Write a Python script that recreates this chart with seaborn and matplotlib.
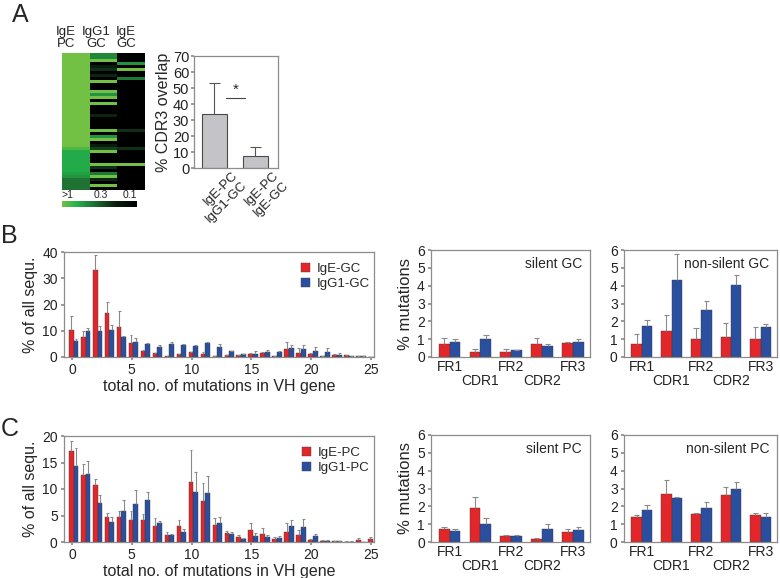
import numpy as np
import pandas as pd
import matplotlib
matplotlib.use("Agg")
import matplotlib.pyplot as plt
import matplotlib.transforms as mtransforms
import seaborn as sns
from matplotlib.colors import LinearSegmentedColormap

# ------------------------------------------------------------------ data
# Panel A: heat map of clone frequencies (one row per CDR3 clone)
heat_columns = ["IgE\nPC", "IgG1\nGC", "IgE\nGC"]
heat_ige_pc = [2.0, 2.0, 2.0, 2.0, 2.0, 2.0, 2.0, 2.0, 2.0, 2.0,
               2.0, 2.0, 2.0, 2.0, 2.0, 2.0, 2.0, 2.0, 2.0, 2.0,
               2.0, 2.0, 2.0, 2.0, 2.0, 2.0, 2.0, 2.0, 2.0, 2.0,
               1.0, 0.8, 0.6, 0.6, 0.6, 0.6, 0.6, 0.6, 0.6, 0.55,
               0.5, 0.38, 0.38, 0.38, 0.38]
heat_igg1_gc = [0.45, 0.45, 1.5, 0.1, 0.18, 0.22, 0.1, 0.2, 0.1, 1.5,
                0.1, 0.1, 1.5, 0.5, 1.5, 0.1, 1.5, 0.1, 0.1, 0.1,
                0.2, 0.1, 0.1, 0.1, 0.1, 1.5, 0.1, 0.5, 1.5, 0.1,
                0.18, 0.25, 1.5, 0.1, 0.1, 0.1, 1.5, 0.22, 0.1, 0.4,
                1.5, 0.2, 0.1, 1.5, 0.1]
heat_ige_gc = [0.05, 0.05, 0.05, 0.5, 0.05, 1.2, 0.05, 0.05, 0.4, 0.05,
               0.05, 0.05, 0.05, 0.05, 0.05, 0.05, 0.05, 0.05, 0.05, 0.05,
               0.05, 0.05, 0.05, 0.05, 0.05, 0.22, 0.05, 0.05, 0.05, 0.05,
               0.05, 0.22, 0.05, 0.05, 0.05, 0.05, 1.2, 0.05, 0.05, 0.05,
               0.05, 0.05, 0.05, 0.05, 0.05]
cbar_values = [1.0, 0.3, 0.1]
cbar_ticklabels = [">1", "0.3", "0.1"]

# Panel A: CDR3 overlap bar chart
overlap_pairs = ["IgE-PC\nIgG1-GC", "IgE-PC\nIgE-GC"]
overlap_mean = [34.0, 7.5]
overlap_upper = [53.0, 13.0]

# Panels B/C: distribution of number of mutations
mut_n = list(range(26))
gc_groups = ["IgE-GC", "IgG1-GC"]
gc_ige = [10.3, 7.6, 33.2, 16.9, 11.4, 5.2, 2.2, 1.4, 0.4, 1.1, 1.8, 1.3, 0.25,
          0.7, 0.6, 1.1, 1.4, 0.25, 2.9, 1.6, 1.2, 0.2, 0.9, 0.6, 0.25, 0.1]
gc_ige_hi = [15.6, 9.9, 39.0, 21.0, 17.4, 8.3, 2.8, 1.6, 0.5, 1.3, 2.0, 1.8, 0.3,
             0.8, 0.7, 1.5, 2.0, 0.3, 5.6, 3.3, 1.5, 0.3, 1.3, 0.7, 0.3, 0.15]
gc_igg1 = [6.0, 9.8, 10.0, 10.2, 7.7, 5.8, 5.1, 3.8, 4.9, 4.5, 4.3, 5.2, 3.9,
           2.1, 1.2, 1.3, 2.0, 2.0, 3.5, 3.2, 2.3, 1.9, 0.9, 0.2, 0.2, 0.1]
gc_igg1_hi = [6.9, 10.9, 11.7, 12.1, 8.1, 7.1, 5.3, 4.4, 5.8, 5.0, 4.5, 5.6, 4.9,
              2.3, 1.3, 2.1, 2.5, 2.4, 4.7, 4.5, 3.9, 3.3, 1.5, 0.3, 0.3, 0.15]

pc_groups = ["IgE-PC", "IgG1-PC"]
pc_ige = [17.1, 12.6, 10.7, 4.7, 4.7, 4.2, 4.2, 3.0, 1.3, 3.0, 11.4, 7.7, 3.3,
          1.7, 0.9, 2.3, 1.6, 0.6, 1.9, 1.4, 0.4, 0.2, 0.1, 0.05, 0.45, 0.55]
pc_ige_hi = [19.1, 14.8, 11.9, 5.5, 5.8, 5.8, 5.2, 4.6, 1.9, 4.2, 17.4, 11.2, 4.5,
             2.0, 1.3, 3.6, 2.7, 0.9, 3.6, 2.3, 0.5, 0.3, 0.15, 0.1, 0.8, 0.9]
pc_igg1 = [14.3, 12.8, 7.3, 3.8, 5.8, 7.1, 8.0, 3.6, 1.4, 1.9, 9.4, 9.2, 3.6,
           1.6, 0.6, 1.1, 0.9, 0.7, 3.0, 2.8, 1.1, 0.25, 0.1, 0.05, 0.0, 0.05]
pc_igg1_hi = [17.7, 15.2, 8.9, 4.7, 7.9, 9.9, 9.4, 4.0, 1.6, 2.5, 13.3, 12.5, 4.7,
              1.8, 0.8, 1.7, 1.4, 1.2, 4.2, 4.3, 1.6, 0.4, 0.15, 0.1, 0.0, 0.1]
hist_ticks = [0, 5, 10, 15, 20, 25]

# Panels B/C: % mutations per region
regions = ["FR1", "CDR1", "FR2", "CDR2", "FR3"]
sil_gc_ige = [0.71, 0.30, 0.28, 0.75, 0.77]
sil_gc_ige_hi = [1.09, 0.47, 0.47, 1.07, 0.83]
sil_gc_igg1 = [0.83, 1.03, 0.39, 0.62, 0.86]
sil_gc_igg1_hi = [1.03, 1.26, 0.41, 0.75, 1.01]
ns_gc_ige = [0.75, 1.44, 1.03, 1.13, 0.99]
ns_gc_ige_hi = [1.28, 2.33, 1.65, 1.88, 1.67]
ns_gc_igg1 = [1.73, 4.31, 2.63, 4.03, 1.69]
ns_gc_igg1_hi = [2.06, 5.78, 3.15, 4.62, 1.86]
sil_pc_ige = [0.71, 1.91, 0.36, 0.19, 0.56]
sil_pc_ige_hi = [0.86, 2.55, 0.41, 0.22, 0.71]
sil_pc_igg1 = [0.62, 0.99, 0.34, 0.73, 0.69]
sil_pc_igg1_hi = [0.75, 1.37, 0.39, 0.99, 0.84]
ns_pc_ige = [1.39, 2.70, 1.56, 2.63, 1.54]
ns_pc_ige_hi = [1.54, 3.47, 1.63, 3.10, 1.61]
ns_pc_igg1 = [1.80, 2.48, 1.90, 2.95, 1.41]
ns_pc_igg1_hi = [2.06, 2.55, 2.23, 3.34, 1.61]

# ------------------------------------------------------------------ style
RED = "#e3262a"
BLUE = "#2b4f9f"
SPINE = "#8c8c8c"
ERR = "#8a8a8a"

sns.set_theme(style="ticks")
plt.rcParams["font.family"] = ["Liberation Sans", "DejaVu Sans"]
plt.rcParams["axes.edgecolor"] = SPINE
plt.rcParams["axes.linewidth"] = 0.9
plt.rcParams["xtick.color"] = SPINE
plt.rcParams["ytick.color"] = SPINE
plt.rcParams["xtick.labelcolor"] = "#222222"
plt.rcParams["ytick.labelcolor"] = "#222222"
plt.rcParams["xtick.major.size"] = 2.5
plt.rcParams["ytick.major.size"] = 2.5
plt.rcParams["xtick.major.pad"] = 2
plt.rcParams["ytick.major.pad"] = 2

W, H = 780, 578
fig = plt.figure(figsize=(W / 100, H / 100), dpi=100)


def box(x0, y0, x1, y1):
    return [x0 / W, 1 - y1 / H, (x1 - x0) / W, (y1 - y0) / H]


def add_err(ax, vals, his, color=ERR, cap_frac=0.6, lw=0.8):
    for cont, v, h in zip(ax.containers, vals, his):
        for p, vv, hh in zip(cont.patches, v, h):
            if hh <= vv:
                continue
            xc = p.get_x() + p.get_width() / 2
            cw = p.get_width() * cap_frac / 2
            ax.vlines(xc, vv, hh, color=color, lw=lw, zorder=1)
            ax.hlines(hh, xc - cw, xc + cw, color=color, lw=lw, zorder=1)


# ------------------------------------------------------------------ panel A heat map
ax_heat = fig.add_axes(box(62, 53, 145, 190))
ax_cbar = fig.add_axes(box(62, 201, 137, 207))
cmap = LinearSegmentedColormap.from_list(
    "gcmap",
    [(0.0, "#72c044"), (0.2, "#25b04b"), (0.45, "#1d6a30"),
     (0.72, "#0b1f0e"), (1.0, "#000000")])
heat_df = pd.DataFrame({c: v for c, v in zip(
    heat_columns, [heat_ige_pc, heat_igg1_gc, heat_ige_gc])})
heat_t = -np.log10(heat_df.clip(0.1, 1.0))
sns.heatmap(heat_t, ax=ax_heat, cmap=cmap, vmin=0, vmax=1, cbar_ax=ax_cbar,
            cbar_kws={"orientation": "horizontal"}, xticklabels=True,
            yticklabels=False)
ax_heat.xaxis.tick_top()
ax_heat.set_xticks(np.arange(len(heat_columns)) * 1.08 + 0.15)
ax_heat.set_xticklabels(heat_columns, fontsize=9.5, linespacing=1.05,
                        rotation=0)
ax_heat.tick_params(axis="x", length=0, pad=2)
ax_heat.set_xlabel("")

cb = ax_heat.collections[0].colorbar
cb.set_ticks([-np.log10(v) for v in cbar_values])
cb.set_ticklabels(cbar_ticklabels)
cb.outline.set_visible(False)
ax_cbar.xaxis.set_ticks_position("top")
ax_cbar.tick_params(axis="x", length=0, labelsize=7.5, pad=1)
cbl = ax_cbar.get_xticklabels()
cbl[0].set_ha("left")
cbl[-1].set_ha("right")

fig.text(12 / W, 1 - 3 / H, "A", fontsize=18, va="top", ha="left")

# ------------------------------------------------------------------ panel A bar chart
ax_ov = fig.add_axes(box(194, 56, 278, 168))
ov_df = pd.DataFrame({"pair": overlap_pairs, "overlap": overlap_mean})
sns.barplot(data=ov_df, x="pair", y="overlap", ax=ax_ov, color="#c3c3c8",
            edgecolor="#4a4a4a", linewidth=0.8, width=0.6, errorbar=None,
            saturation=1)
add_err(ax_ov, [overlap_mean], [overlap_upper], color="#555555",
        cap_frac=0.45, lw=0.8)
ax_ov.set_ylim(0, 70)
ax_ov.set_yticks(range(0, 71, 10))
ax_ov.set_xlim(-0.5, 1.55)
ax_ov.set_xlabel("")
ax_ov.set_ylabel("% CDR3 overlap", fontsize=11.5, labelpad=1)
ax_ov.tick_params(axis="y", labelsize=10.5, pad=1)
ax_ov.tick_params(axis="x", labelsize=9.5, length=0, pad=1)
shift = mtransforms.ScaledTranslation(0.17, 0, fig.dpi_scale_trans)
for lbl in ax_ov.get_xticklabels():
    lbl.set_rotation(45)
    lbl.set_ha("right")
    lbl.set_rotation_mode("anchor")
    lbl.set_transform(lbl.get_transform() + shift)
ax_ov.plot([0.28, 0.74], [44, 44], color="#444444", lw=0.8)
ax_ov.text(0.51, 44.5, "*", ha="center", va="bottom", fontsize=11)


# ------------------------------------------------------------------ helpers
def hist_panel(ax, ige, ige_hi, igg1, igg1_hi, groups, ymax, ystep):
    df = pd.DataFrame({"n": mut_n * 2, "pct": ige + igg1,
                       "grp": [groups[0]] * len(mut_n) + [groups[1]] * len(mut_n)})
    sns.barplot(data=df, x="n", y="pct", hue="grp", hue_order=groups,
                palette=[RED, BLUE], width=0.78, saturation=1, errorbar=None,
                edgecolor="#3a3a3a", linewidth=0.3, ax=ax)
    add_err(ax, [ige, igg1], [ige_hi, igg1_hi])
    ax.set_xticks([t - 0.14 for t in hist_ticks])
    ax.set_xticklabels([str(t) for t in hist_ticks])
    ax.set_xlim(-0.80, 25.1)
    ax.set_ylim(0, ymax)
    ax.set_yticks(np.arange(0, ymax + 0.1, ystep))
    ax.tick_params(labelsize=10)
    ax.set_xlabel("total no. of mutations in VH gene", fontsize=11.5, labelpad=1)
    ax.set_ylabel("% of all sequ.", fontsize=11.5, labelpad=3)
    h, l = ax.get_legend_handles_labels()
    ax.legend(h, l, loc="upper right", bbox_to_anchor=(1.02, 1.0),
              frameon=False, handlelength=0.7, handleheight=0.7,
              handletextpad=0.5, labelspacing=0.25, fontsize=9.5,
              borderaxespad=0.4)


def region_panel(ax, ige, ige_hi, igg1, igg1_hi, title, ylabel):
    df = pd.DataFrame({"region": regions * 2, "pct": ige + igg1,
                       "grp": ["IgE"] * len(regions) + ["IgG1"] * len(regions)})
    sns.barplot(data=df, x="region", y="pct", hue="grp", order=regions,
                palette=[RED, BLUE], width=0.7, saturation=1, errorbar=None,
                edgecolor="#3a3a3a", linewidth=0.3, legend=False, ax=ax)
    add_err(ax, [ige, igg1], [ige_hi, igg1_hi], cap_frac=0.5)
    ax.set_ylim(0, 6)
    ax.set_yticks(range(0, 7))
    ax.set_xlim(-0.6, 4.55)
    ax.set_xticks(range(len(regions)))
    ax.set_xticklabels([("\n" + r) if i % 2 else r
                        for i, r in enumerate(regions)], linespacing=1.0)
    ax.tick_params(axis="x", length=0, pad=2, labelsize=10)
    ax.tick_params(axis="y", labelsize=10)
    ax.set_xlabel("")
    ax.set_ylabel(ylabel, fontsize=12, labelpad=3)
    ax.text(0.95, 0.93, title, transform=ax.transAxes, ha="right", va="top",
            fontsize=10)


# ------------------------------------------------------------------ panel B
ax_bh = fig.add_axes(box(64, 252, 374, 357))
hist_panel(ax_bh, gc_ige, gc_ige_hi, gc_igg1, gc_igg1_hi, gc_groups, 40, 10)
ax_bs = fig.add_axes(box(431, 250, 590, 357))
region_panel(ax_bs, sil_gc_ige, sil_gc_ige_hi, sil_gc_igg1, sil_gc_igg1_hi,
             "silent GC", "% mutations")
ax_bn = fig.add_axes(box(624, 250, 777, 357))
region_panel(ax_bn, ns_gc_ige, ns_gc_ige_hi, ns_gc_igg1, ns_gc_igg1_hi,
             "non-silent GC", "")
fig.text(1 / W, 1 - 224 / H, "B", fontsize=18, va="top", ha="left")

# ------------------------------------------------------------------ panel C
ax_ch = fig.add_axes(box(64, 436, 374, 542))
hist_panel(ax_ch, pc_ige, pc_ige_hi, pc_igg1, pc_igg1_hi, pc_groups, 20, 5)
ax_cs = fig.add_axes(box(431, 435, 590, 542))
region_panel(ax_cs, sil_pc_ige, sil_pc_ige_hi, sil_pc_igg1, sil_pc_igg1_hi,
             "silent PC", "% mutations")
ax_cn = fig.add_axes(box(624, 435, 777, 542))
region_panel(ax_cn, ns_pc_ige, ns_pc_ige_hi, ns_pc_igg1, ns_pc_igg1_hi,
             "non-silent PC", "")
fig.text(1 / W, 1 - 417 / H, "C", fontsize=18, va="top", ha="left")

fig.savefig("out.png", dpi=100, facecolor="white")
